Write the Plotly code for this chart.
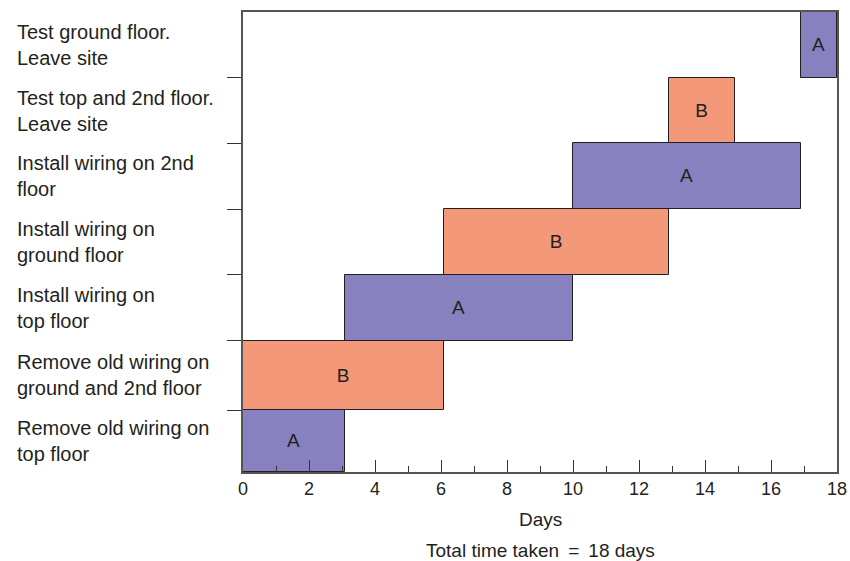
import plotly.graph_objects as go

# ---- data ----
tasks = [
    "Remove old wiring on<br>top floor",
    "Remove old wiring on<br>ground and 2nd floor",
    "Install wiring on<br>top floor",
    "Install wiring on<br>ground floor",
    "Install wiring on 2nd<br>floor",
    "Test top and 2nd floor.<br>Leave site",
    "Test ground floor.<br>Leave site",
]
teams = ["A", "B", "A", "B", "A", "B", "A"]
start_day = [0, 0, 3.1, 6.1, 10, 12.9, 16.9]
end_day = [3.1, 6.1, 10, 12.9, 16.9, 14.9, 18]
row_edges = [0, 0.94, 2, 3, 4, 5, 6, 7]
x_ticks = list(range(0, 19, 2))
team_colors = {"A": "#8782bf", "B": "#f4987a"}

durations = [e - s for s, e in zip(start_day, end_day)]
centers = [(row_edges[i] + row_edges[i + 1]) / 2 for i in range(len(tasks))]
heights = [row_edges[i + 1] - row_edges[i] for i in range(len(tasks))]

FONT = "Liberation Sans, Arial, sans-serif"
TXT = "#231f20"

fig = go.Figure()
fig.add_trace(go.Bar(
    orientation="h",
    y=centers,
    x=durations,
    base=start_day,
    width=heights,
    marker=dict(color=[team_colors[t] for t in teams],
                line=dict(color=TXT, width=1)),
    text=teams,
    textposition="inside",
    insidetextanchor="middle",
    textangle=0,
    textfont=dict(family=FONT, size=19, color=TXT),
    showlegend=False,
    hoverinfo="skip",
))

for c, label in zip(centers, tasks):
    fig.add_annotation(
        x=-0.3838, xref="paper", y=c, yref="y",
        text=label, showarrow=False, xanchor="left", yanchor="middle",
        align="left", font=dict(family=FONT, size=20, color=TXT),
    )

fig.add_annotation(x=0.5, xref="paper", y=0, yref="paper", yshift=-47,
                   text="Days", showarrow=False, yanchor="middle",
                   font=dict(family=FONT, size=19, color=TXT))
fig.add_annotation(x=0.5, xref="paper", y=0, yref="paper", yshift=-78,
                   text="Total time taken \u2009=\u2009 18 days", showarrow=False,
                   yanchor="middle", font=dict(family=FONT, size=19, color=TXT))

fig.update_layout(
    width=850, height=561,
    margin=dict(l=243, r=13, t=12, b=89, autoexpand=False),
    paper_bgcolor="white", plot_bgcolor="white",
    font=dict(family=FONT, color=TXT),
    bargap=0,
)
fig.update_xaxes(
    range=[0, 18], tickvals=x_ticks, ticks="inside", ticklen=12,
    tickcolor="#333", tickwidth=1, automargin=False,
    minor=dict(dtick=1, ticks="inside", ticklen=6, tickcolor="#333", tickwidth=1),
    showgrid=False, zeroline=False,
    showline=True, linecolor="#555", linewidth=1.5, mirror=True,
    tickfont=dict(family=FONT, size=18, color=TXT),
)
fig.update_yaxes(
    range=[0, 7], tickvals=row_edges[1:-1], ticks="outside", ticklen=14,
    tickcolor="#333", tickwidth=1, showticklabels=False, automargin=False,
    showgrid=False, zeroline=False,
    showline=True, linecolor="#555", linewidth=1.5, mirror=True,
)

fig.write_html("out.html", config={"displayModeBar": False},
               post_script="document.body.style.margin='0';document.body.style.overflow='hidden';")
